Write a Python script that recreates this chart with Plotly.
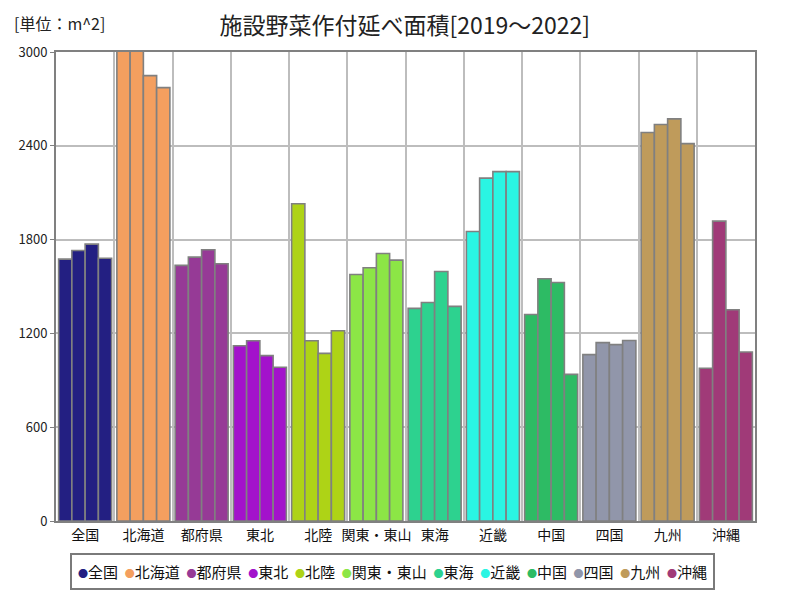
import plotly.graph_objects as go

regions = ["全国", "北海道", "都府県", "東北", "北陸", "関東・東山", "東海",
           "近畿", "中国", "四国", "九州", "沖縄"]
years = ["2019", "2020", "2021", "2022"]
v2019 = [1675, 3050, 1635, 1121, 2029, 1577, 1360, 1852, 1321, 1064, 2485, 977]
v2020 = [1730, 3030, 1688, 1153, 1153, 1620, 1398, 2193, 1550, 1141, 2536, 1918]
v2021 = [1771, 2849, 1735, 1058, 1072, 1711, 1596, 2235, 1526, 1128, 2572, 1351]
v2022 = [1681, 2772, 1646, 983, 1217, 1669, 1373, 2235, 938, 1155, 2414, 1081]
colors = ["#231f82", "#f49f5f", "#963a96", "#a312cb", "#aed316", "#8ce646",
          "#2dd28f", "#2af5e3", "#2dbb64", "#9196aa", "#bf9b5b", "#a03a78"]
y_ticks = [0, 600, 1200, 1800, 2400, 3000]

FONT = "Noto Sans CJK JP"
fig = go.Figure()
for yr, vals in zip(years, [v2019, v2020, v2021, v2022]):
    fig.add_trace(go.Bar(
        x=regions, y=vals, name=yr, showlegend=False,
        marker=dict(color=colors, line=dict(color="#808080", width=1.6)),
    ))

legend_text = "  ".join(
    f"<span style='color:{c};font-size:10px'>●</span>{r}" for r, c in zip(regions, colors)
)

fig.update_layout(
    width=792, height=592,
    barmode="group", bargap=0.09, bargroupgap=0,
    plot_bgcolor="white", paper_bgcolor="white",
    margin=dict(l=48, r=45, t=44, b=79),
    font=dict(family=FONT, color="#222"),
    title=dict(text="施設野菜作付延べ面積[2019～2022]", x=0.501, xanchor="center",
               y=0.97, yanchor="middle", font=dict(size=23, color="#222", family=FONT)),
    xaxis=dict(
        type="category", tickson="boundaries", showgrid=True,
        gridcolor="#bdbdbd", gridwidth=1.5, ticks="", tickangle=0, automargin=False,
        showline=True, linecolor="#808080", linewidth=2, mirror=True,
        tickfont=dict(size=14, color="#111", family=FONT),
    ),
    yaxis=dict(
        range=[0, 3000], tickvals=y_ticks, ticktext=[str(v) for v in y_ticks],
        showgrid=True, gridcolor="#bdbdbd", gridwidth=1.5, automargin=False,
        ticks="outside", ticklen=4, tickcolor="#808080",
        showline=True, linecolor="#808080", linewidth=2, mirror=True,
        tickfont=dict(size=13, color="#222", family=FONT), zeroline=False,
    ),
    annotations=[
        dict(text="[単位：m^2]", xref="paper", yref="paper", x=-0.063, y=1.062,
             xanchor="left", yanchor="middle", showarrow=False,
             font=dict(size=16, color="#222", family=FONT)),
        dict(text=legend_text, xref="paper", yref="paper", x=0.481, y=-0.069,
             xanchor="center", yanchor="top", showarrow=False,
             bordercolor="#7a7a7a", borderwidth=2, borderpad=6, bgcolor="white",
             font=dict(size=15, color="#111", family=FONT)),
    ],
)

fig.write_html("out.html")
